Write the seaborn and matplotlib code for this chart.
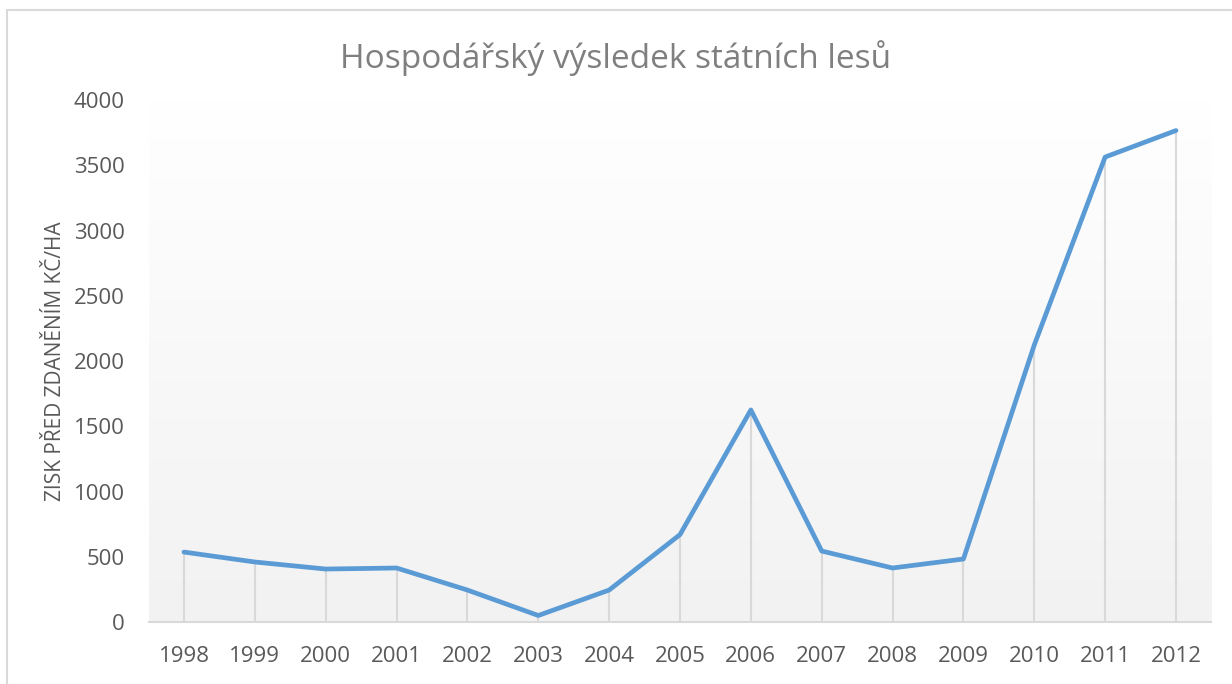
import numpy as np
import pandas as pd
import matplotlib
matplotlib.use('Agg')
import matplotlib.pyplot as plt
from matplotlib.colors import LinearSegmentedColormap
from matplotlib.patches import Rectangle
import seaborn as sns

# Data
years = ['1998', '1999', '2000', '2001', '2002', '2003', '2004', '2005',
         '2006', '2007', '2008', '2009', '2010', '2011', '2012']
profit = [536, 460, 406, 414, 245, 50, 245, 670,
          1625, 544, 414, 483, 2123, 3563, 3766]

df = pd.DataFrame({'pos': range(len(years)), 'profit': profit})

sns.set_style("white")
plt.rcParams['font.family'] = ['Open Sans', 'DejaVu Sans']

fig = plt.figure(figsize=(12.32, 6.84), dpi=100)
ax = fig.add_axes([0.1206, 0.0906, 0.8627, 0.7632])

# frame around the whole chart
fig.patches.append(Rectangle((7 / 1232, -0.1), 1.2, 1.1 - 10 / 684,
                             transform=fig.transFigure, fill=False,
                             edgecolor='#d9d9d9', linewidth=1.5))

# gradient background of the plot area
cmap = LinearSegmentedColormap.from_list('bg', ['#f2f2f2', '#ffffff'])
grad = np.linspace(0, 1, 256).reshape(-1, 1)
ax.imshow(grad, cmap=cmap, aspect='auto', origin='lower',
          extent=[-0.5, len(years) - 0.5, 0, 4000], zorder=0)

# drop lines
ax.vlines(df['pos'], 0, df['profit'], color='#d9d9d9', linewidth=1.5, zorder=1)

sns.lineplot(data=df, x='pos', y='profit', ax=ax, color='#5b9bd5',
             linewidth=3.4, zorder=3, solid_capstyle='round')

ax.set_xlim(-0.5, len(years) - 0.5)
ax.set_ylim(0, 4000)
ax.set_xticks(range(len(years)))
ax.set_xticklabels(years)
ax.set_yticks(range(0, 4001, 500))
ax.tick_params(axis='both', length=0, labelsize=16, labelcolor='#595959')
ax.tick_params(axis='x', pad=17)
ax.tick_params(axis='y', pad=17)

for s in ['top', 'right', 'left']:
    ax.spines[s].set_visible(False)
ax.spines['bottom'].set_color('#d9d9d9')
ax.spines['bottom'].set_linewidth(1.5)

ax.set_xlabel('')
ax.set_ylabel('ZISK PŘED ZDANĚNÍM KČ/HA', fontsize=15, color='#595959')
ax.yaxis.set_label_coords(-0.078, 0.5)

fig.suptitle('Hospodářský výsledek státních lesů', fontsize=24,
             color='#7f7f7f', y=0.942)

fig.savefig('out.png', dpi=100)
